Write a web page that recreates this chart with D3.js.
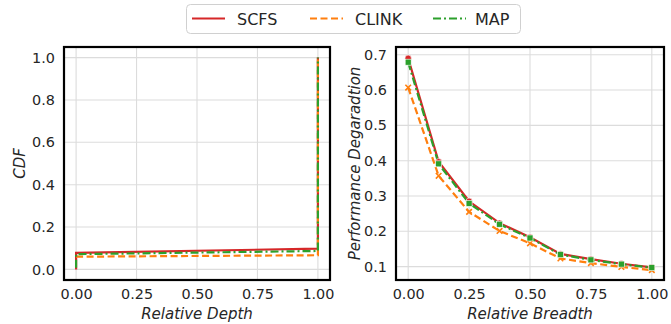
<!DOCTYPE html>
<html><head><meta charset="utf-8">
<script src="https://cdn.jsdelivr.net/npm/d3@7"></script>
<style>body{margin:0;background:#fff}svg{display:block}</style>
</head><body>
<svg id="c" width="671" height="324"></svg>
<script>
const seriesNames = ["SCFS", "CLINK", "MAP"];
const colors = ["#d62728", "#ff7f0e", "#2ca02c"];
const dashes = [null, "7,3.5", "8,3,2,3"];

// Left: CDF of relative depth (points of each curve)
const depthSCFS  = [[0, 0.0], [0, 0.078], [1, 0.098], [1, 1.0]];
const depthCLINK = [[0, 0.06], [0, 0.06], [1, 0.067], [1, 1.0]];
const depthMAP   = [[0, 0.008], [0, 0.072], [1, 0.087], [1, 1.0]];

// Right: performance degradation vs relative breadth
const breadth = [0, 0.125, 0.25, 0.375, 0.5, 0.625, 0.75, 0.875, 1.0];
const perfSCFS  = [0.690, 0.397, 0.285, 0.223, 0.183, 0.136, 0.121, 0.108, 0.098];
const perfCLINK = [0.607, 0.357, 0.255, 0.201, 0.166, 0.123, 0.110, 0.099, 0.090];
const perfMAP   = [0.679, 0.391, 0.279, 0.220, 0.181, 0.134, 0.119, 0.107, 0.097];

const xTicks = [0, 0.25, 0.5, 0.75, 1.0];
const yTicksL = [0, 0.2, 0.4, 0.6, 0.8, 1.0];
const yTicksR = [0.1, 0.2, 0.3, 0.4, 0.5, 0.6, 0.7];

const svg = d3.select("#c");
const font = "DejaVu Sans, sans-serif";
const tickColor = "#262626";

function panel(x0, x1, y0, y1, ydom, yticks, yfmt, xlabel, ylabel, ylabelX) {
  const x = d3.scaleLinear().domain([-0.05, 1.05]).range([x0, x1]);
  const y = d3.scaleLinear().domain(ydom).range([y1, y0]);
  const g = svg.append("g");
  // grid
  g.append("g").selectAll("line").data(xTicks).join("line")
    .attr("x1", d => x(d)).attr("x2", d => x(d)).attr("y1", y0).attr("y2", y1)
    .attr("stroke", "#dcdcdc").attr("stroke-width", 1.1);
  g.append("g").selectAll("line").data(yticks).join("line")
    .attr("y1", d => y(d)).attr("y2", d => y(d)).attr("x1", x0).attr("x2", x1)
    .attr("stroke", "#dcdcdc").attr("stroke-width", 1.1);
  // axes (labels only)
  const ax = g.append("g").attr("transform", `translate(0,${y1})`)
    .call(d3.axisBottom(x).tickValues(xTicks).tickFormat(d3.format(".2f")).tickSize(0).tickPadding(9));
  const ay = g.append("g").attr("transform", `translate(${x0},0)`)
    .call(d3.axisLeft(y).tickValues(yticks).tickFormat(yfmt).tickSize(0).tickPadding(9));
  [ax, ay].forEach(a => {
    a.select(".domain").remove();
    a.selectAll("text").attr("font-family", font).attr("font-size", 14.4).attr("fill", tickColor);
  });
  // labels
  g.append("text").attr("x", (x0 + x1) / 2).attr("y", 319).attr("text-anchor", "middle")
    .attr("font-family", font).attr("font-size", 15).attr("font-style", "italic").attr("fill", tickColor)
    .text(xlabel);
  g.append("text").attr("transform", `translate(${ylabelX},${(y0 + y1) / 2}) rotate(-90)`)
    .attr("text-anchor", "middle")
    .attr("font-family", font).attr("font-size", 15).attr("font-style", "italic").attr("fill", tickColor)
    .text(ylabel);
  return {g, x, y, frame: () => g.append("rect").attr("x", x0).attr("y", y0)
    .attr("width", x1 - x0).attr("height", y1 - y0).attr("fill", "none")
    .attr("stroke", "#000").attr("stroke-width", 2.2)};
}

// Left panel
const L = panel(64, 330, 47, 280, [-0.05, 1.05], yTicksL, d3.format(".1f"), "Relative Depth", "CDF", 25);
const line = d3.line();
[depthSCFS, depthCLINK, depthMAP].forEach((pts, i) => {
  L.g.append("path").datum(pts)
    .attr("d", d3.line().x(d => L.x(d[0])).y(d => L.y(d[1])))
    .attr("fill", "none").attr("stroke", colors[i]).attr("stroke-width", 2.2)
    .attr("stroke-dasharray", dashes[i]);
});
L.frame();

// Right panel
const R = panel(396, 664, 47, 280, [0.062, 0.722], yTicksR, d3.format(".1f"), "Relative Breadth", "Performance Degaradtion", 360);
const perf = [perfSCFS, perfCLINK, perfMAP];
perf.forEach((vals, i) => {
  R.g.append("path").datum(vals)
    .attr("d", d3.line().x((d, j) => R.x(breadth[j])).y(d => R.y(d)))
    .attr("fill", "none").attr("stroke", colors[i]).attr("stroke-width", 2.2)
    .attr("stroke-dasharray", dashes[i]);
});
// markers
R.g.append("g").selectAll("circle").data(perfSCFS).join("circle")
  .attr("cx", (d, j) => R.x(breadth[j])).attr("cy", d => R.y(d)).attr("r", 3.2)
  .attr("fill", colors[0]).attr("stroke", "#fff").attr("stroke-width", 0.6);
R.g.append("g").selectAll("path").data(perfCLINK).join("path")
  .attr("transform", (d, j) => `translate(${R.x(breadth[j])},${R.y(d)})`)
  .attr("d", "M-2.8,-2.8L2.8,2.8M-2.8,2.8L2.8,-2.8")
  .attr("stroke", colors[1]).attr("stroke-width", 1.6);
R.g.append("g").selectAll("rect").data(perfMAP).join("rect")
  .attr("x", (d, j) => R.x(breadth[j]) - 3).attr("y", d => R.y(d) - 3)
  .attr("width", 6).attr("height", 6)
  .attr("fill", colors[2]).attr("stroke", "#fff").attr("stroke-width", 0.6);
R.frame();

// Legend
const lg = svg.append("g");
lg.append("rect").attr("x", 186.5).attr("y", 4.5).attr("width", 334).attr("height", 29).attr("rx", 4)
  .attr("fill", "#fff").attr("stroke", "#d0d0d0").attr("stroke-width", 1);
const legX = [192, 310, 433];
const legTX = [237, 355, 475];
seriesNames.forEach((n, i) => {
  lg.append("line").attr("x1", legX[i]).attr("x2", legX[i] + 33).attr("y1", 18.5).attr("y2", 18.5)
    .attr("stroke", colors[i]).attr("stroke-width", 2.2).attr("stroke-dasharray", dashes[i]);
  lg.append("text").attr("x", legTX[i]).attr("y", 24.5).attr("font-family", font).attr("font-size", 16)
    .attr("fill", tickColor).text(n);
});
</script>
</body></html>
